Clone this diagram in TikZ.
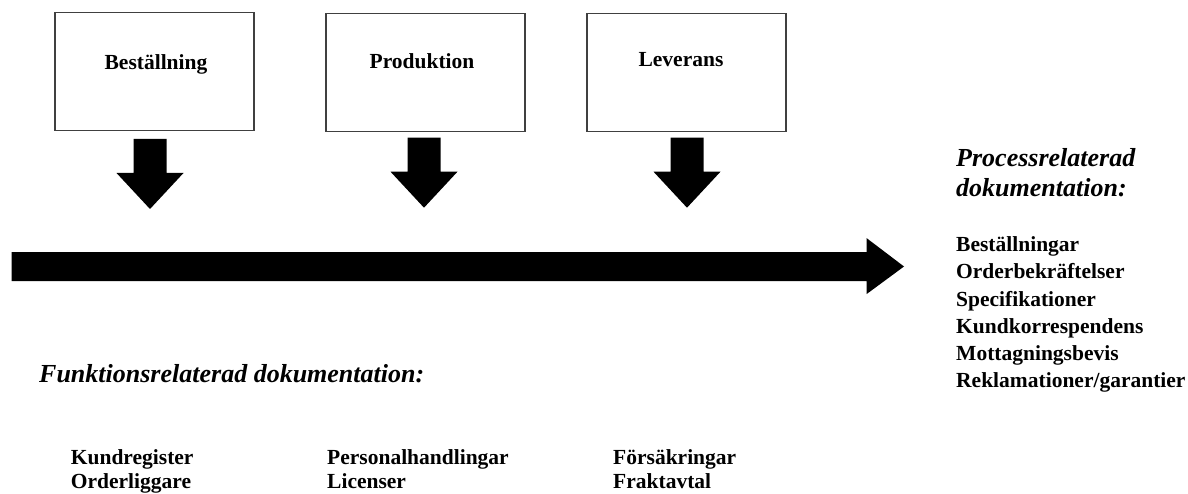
\documentclass[tikz,border=0pt]{standalone}
\usepackage{fontspec}
\setmainfont{Liberation Serif}
\definecolor{boxgray}{HTML}{404040}
\begin{document}
\begin{tikzpicture}[x=1pt,y=-1pt,
  procbox/.style={draw=boxgray, line width=1.3pt, minimum width=199pt, minimum height=118pt, inner sep=0pt},
  boxlabel/.style={font=\fontsize{21.5}{26}\selectfont\bfseries, anchor=base, inner sep=0pt},
  listtext/.style={font=\fontsize{21.5}{27}\selectfont\bfseries, anchor=base west, inner sep=0pt},
  heading/.style={font=\fontsize{26}{30}\selectfont\bfseries\itshape, anchor=base west, inner sep=0pt},
  blockarrow/.style={fill=black, draw=none}]
\clip (0,0) rectangle (1188,494);
\fill[white] (0,0) rectangle (1188,494);

% process boxes
\node[procbox] (b1) at (154.5,71.2) {};
\node[procbox] (b2) at (425.5,72.5) {};
\node[procbox] (b3) at (686.5,72.5) {};
\node[boxlabel] (l1) at (156,70) {Beställning};
\node[boxlabel] (l2) at (422,68.3) {Produktion};
\node[boxlabel] (l3) at (681,66.7) {Leverans};

% down block arrows
\coordinate (d1) at (150,139);
\coordinate (d2) at (424,137.7);
\coordinate (d3) at (687,137.7);
\foreach \c in {d1,d2,d3}{
  \fill[blockarrow, shift={(\c)}] (-16.5,0) -- (16.5,0) -- (16.5,34) -- (33.5,34) -- (0,70) -- (-33.5,34) -- (-16.5,34) -- cycle;
}

% main time arrow
\coordinate (m0) at (11.7,266.5);
\fill[blockarrow, shift={(m0)}] (0,-14.3) -- (855,-14.3) -- (855,-28.3) -- (892.3,0) -- (855,27.5) -- (855,14.5) -- (0,14.5) -- cycle;

% process related documentation
\node[heading] (ph1) at (956,167) {Processrelaterad};
\node[heading] (ph2) at (956,196.7) {dokumentation:};
\foreach \t [count=\i from 0] in {Beställningar,Orderbekräftelser,Specifikationer,Kundkorrespendens,Mottagningsbevis,Reklamationer/garantier}{
  \node[listtext] (p\i) at (956,252+27*\i) {\t};
}

% function related documentation
\node[heading] (fh) at (39,382.7) {Funktionsrelaterad dokumentation:};
\node[listtext] (k1) at (70.7,464) {Kundregister};
\node[listtext] (k2) at (70.7,488.5) {Orderliggare};
\node[listtext] (k3) at (327,464) {Personalhandlingar};
\node[listtext] (k4) at (327,488.5) {Licenser};
\node[listtext] (k5) at (613,464) {Försäkringar};
\node[listtext] (k6) at (613,488.5) {Fraktavtal};
\end{tikzpicture}
\end{document}
